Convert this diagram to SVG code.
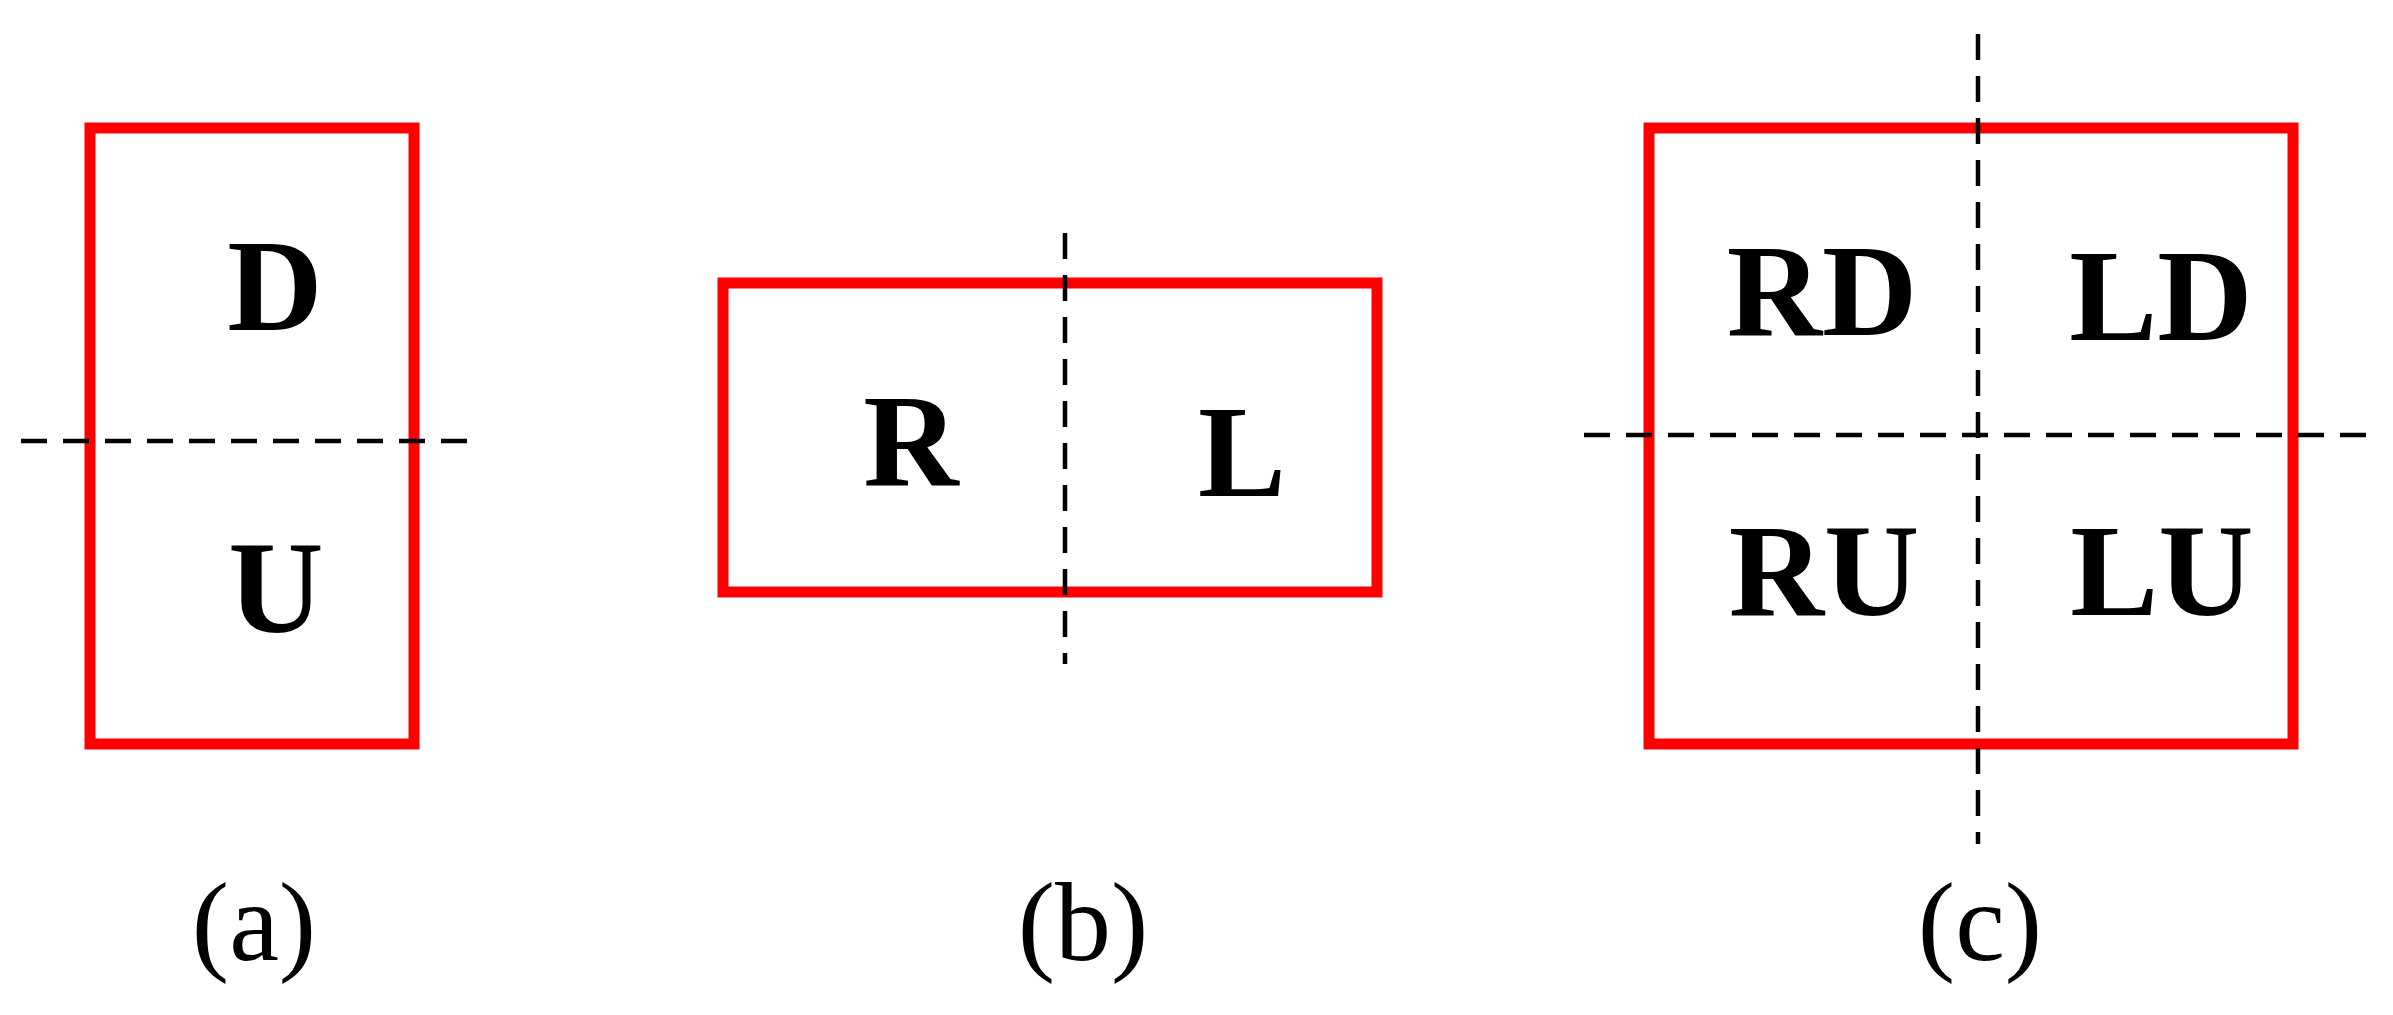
<svg xmlns="http://www.w3.org/2000/svg" width="2393" height="1015" viewBox="0 0 2393 1015">
<style>
.box{fill:none;stroke:#ff0000;stroke-width:11}
.dash{stroke:#000;stroke-width:4.5;stroke-dasharray:26 16;fill:none}
.lbl{font-weight:bold;font-size:132px;text-anchor:middle;fill:#000}
.cap{font-size:112px;text-anchor:middle;fill:#000}
</style>
<rect width="2393" height="1015" fill="#fff"/>
<g font-family="Liberation Serif, Times New Roman, Tinos, serif">
<g id="a">
<rect class="box" x="90" y="128" width="324" height="616"/>
<text class="lbl" x="275" y="330">D</text>
<text class="lbl" x="276" y="632">U</text>
<text class="cap" x="254" y="960">(a)</text>
</g>
<g id="b">
<rect class="box" x="723" y="283" width="654" height="309"/>
<text class="lbl" x="911" y="485">R</text>
<text class="lbl" x="1242" y="496">L</text>
<text class="cap" x="1083" y="960">(b)</text>
</g>
<g id="c">
<rect class="box" x="1649" y="128" width="644" height="616"/>
<text class="lbl" x="1822" y="335">RD</text>
<text class="lbl" x="2161" y="340">LD</text>
<text class="lbl" x="1824" y="615">RU</text>
<text class="lbl" x="2162" y="615">LU</text>
<text class="cap" x="1980" y="960">(c)</text>
</g>
</g>
<g id="connectors">
<line class="dash" x1="21" y1="441" x2="478" y2="441"/>
<line class="dash" x1="1065" y1="233" x2="1065" y2="664"/>
<line class="dash" x1="1978" y1="34" x2="1978" y2="844"/>
<line class="dash" x1="1584" y1="435" x2="2373" y2="435"/>
</g>
</svg>
